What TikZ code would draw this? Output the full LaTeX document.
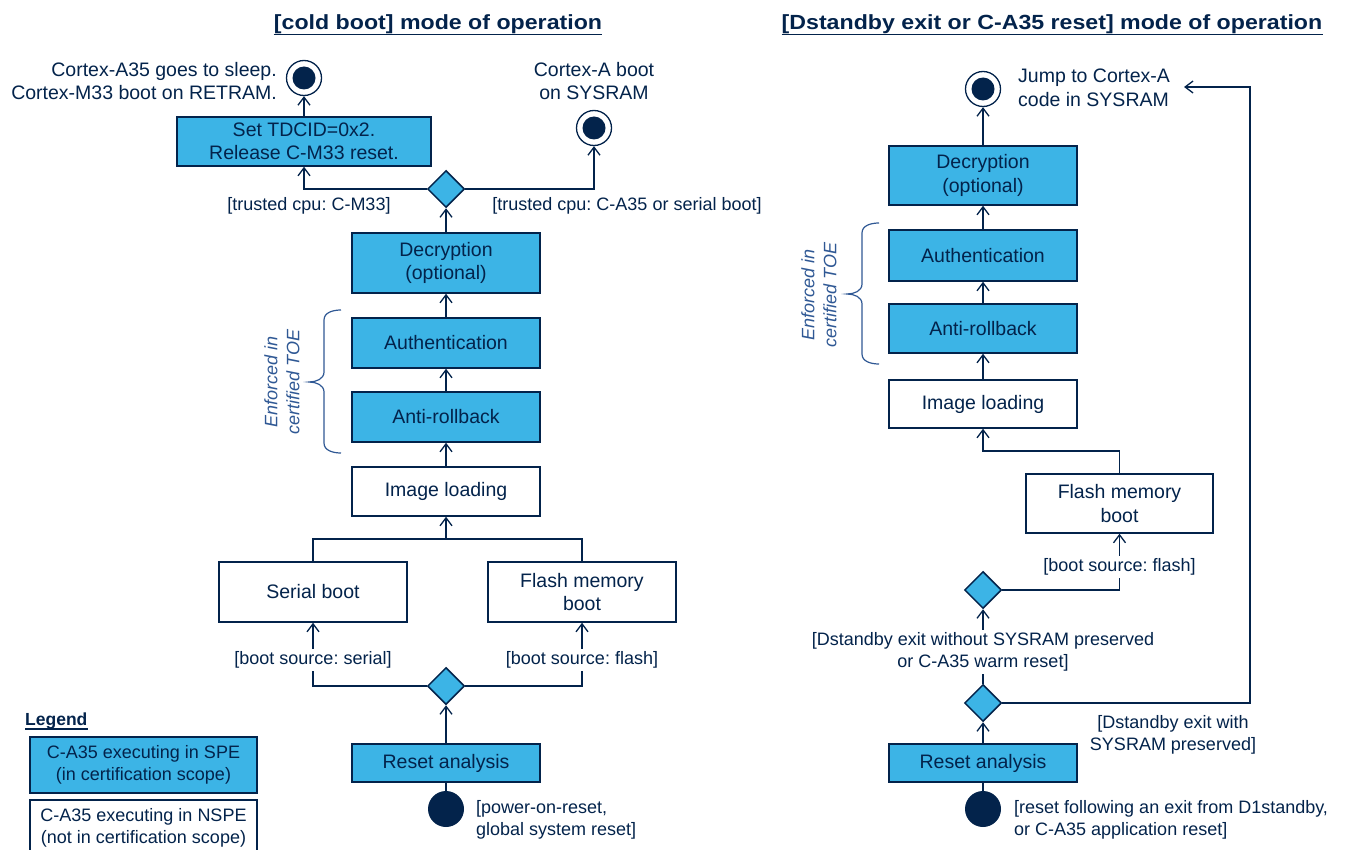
\documentclass[tikz,border=0pt]{standalone}
\usepackage{fontspec}
\setmainfont{Liberation Sans}
\newfontfamily\titleface{Liberation Sans}[FakeStretch=1.13]
\usetikzlibrary{shapes.geometric,arrows.meta}
\frenchspacing

\definecolor{stnavy}{HTML}{03234B}
\definecolor{stblue}{HTML}{3CB4E6}
\definecolor{toeblue}{HTML}{2F5894}

\newcommand{\boxfont}{\fontsize{19.5}{23.5}\selectfont}
\newcommand{\guardfont}{\fontsize{18}{22}\selectfont}

\tikzset{
  spe/.style={draw=stnavy, fill=stblue, line width=1.5pt, text=stnavy, minimum width=188pt,
    minimum height=50pt, inner sep=0pt, align=center, font=\boxfont},
  nspe/.style={spe, fill=white},
  decision/.style={diamond, draw=stnavy, fill=stblue, line width=1.5pt, minimum width=37pt,
    minimum height=37pt, inner sep=0pt},
  final/.style={circle, draw=stnavy, fill=white, line width=1.3pt, minimum size=35pt, inner sep=0pt,
    path picture={\fill[stnavy] (path picture bounding box.center) circle (11.5pt);}},
  initial/.style={circle, fill=stnavy, minimum size=36pt, inner sep=0pt},
  flow/.style={draw=stnavy, line width=1.3pt, -{Straight Barb[length=8pt,width=12pt,line width=1.3pt]}},
  link/.style={draw=stnavy, line width=1.3pt},
  guard/.style={fill=white, text=stnavy, inner sep=3pt, align=center, font=\guardfont},
  note/.style={text=stnavy, inner sep=0pt, font=\boxfont},
  toe/.style={text=toeblue, rotate=90, align=center, font=\guardfont\itshape},
  toebrace/.style={draw=toeblue, line width=1.2pt},
  title/.style={text=stnavy, inner sep=0pt, anchor=base, font=\titleface\bfseries\fontsize{20.5}{24}\selectfont},
}

\begin{document}
\begin{tikzpicture}[x=1pt, y=-1pt]
\useasboundingbox (0,0) rectangle (1348,850);

% ---- cold boot ----
\node[title] (title1) at (438,30) {[cold boot] mode of operation};
\draw[stnavy, line width=1.6pt] (title1.south west) -- (title1.south east);

\node[final] (endA1) at (304,78) {};
\node[note, anchor=east, align=right] (sleepTxt) at (277,81) {Cortex-A35 goes to sleep.\\Cortex-M33 boot on RETRAM.};
\node[final] (endA2) at (594,128) {};
\node[note, align=center] (sysramTxt) at (594,81) {Cortex-A boot\\on SYSRAM};
\node[spe, minimum width=254pt, minimum height=49pt] (tdcid) at (304,141.5) {Set TDCID=0x2.\\Release C-M33 reset.};
\node[decision] (cpu) at (446,189) {};

\node[spe, minimum height=60pt] (decrypt1) at (446,263) {Decryption\\(optional)};
\node[spe] (auth1) at (446,343) {Authentication};
\node[spe] (anti1) at (446,417) {Anti-rollback};
\node[nspe, minimum height=49pt] (load1) at (446,491.5) {Image loading};
\coordinate (join1) at (446,539);
\node[nspe, minimum height=60pt] (serial) at (313,592) {Serial boot};
\node[nspe, minimum height=60pt] (flash1) at (582,592) {Flash memory\\boot};
\node[decision] (source1) at (446,686) {};
\node[spe, minimum height=38pt] (reset1) at (446,763) {Reset analysis};
\node[initial] (start1) at (446,809) {};

\draw[link] (start1) -- (reset1);
\draw[flow] (reset1) -- (source1);
\draw[flow] (source1.west) -| (serial);
\draw[flow] (source1.east) -| (flash1);
\draw[link] (serial) |- (join1) -| (flash1);
\draw[flow] (join1) -- (load1);
\draw[flow] (load1) -- (anti1);
\draw[flow] (anti1) -- (auth1);
\draw[flow] (auth1) -- (decrypt1);
\draw[flow] (decrypt1) -- (cpu);
\draw[flow] (cpu.west) -| (tdcid);
\draw[flow] (cpu.east) -| (endA2);
\draw[flow] (tdcid) -- (endA1);

\node[guard] at (309,206) {[trusted cpu: C-M33]};
\node[guard] at (627,206) {[trusted cpu: C-A35 or serial boot]};
\node[guard] at (313,660) {[boot source: serial]};
\node[guard] at (582,660) {[boot source: flash]};
\node[note, font=\guardfont, anchor=west, align=left] at (476,820) {[power-on-reset,\\global system reset]};

\draw[toebrace] (341,310) to[out=180,in=90] (324,320) -- (324,372) to[out=-90,in=0] (309,382)
  to[out=0,in=90] (324,392) -- (324,443) to[out=-90,in=180] (341,453);
\node[toe] at (282,382) {Enforced in\\certified TOE};

% ---- legend ----
\node[text=stnavy, inner sep=0pt, anchor=base west, font=\bfseries\fontsize{17.5}{21}\selectfont] (legendTitle) at (25,725) {Legend};
\draw[stnavy, line width=1.4pt] (legendTitle.south west) -- (legendTitle.south east);
\node[spe, font=\guardfont, minimum width=227pt, minimum height=56pt] (keySpe) at (143.5,765) {C-A35 executing in SPE\\(in certification scope)};
\node[nspe, font=\guardfont, minimum width=227pt, minimum height=56pt] (keyNspe) at (143.5,828) {C-A35 executing in NSPE\\(not in certification scope)};

% ---- Dstandby exit or C-A35 reset ----
\node[title] (title2) at (1052,30) {[Dstandby exit or C-A35 reset] mode of operation};
\draw[stnavy, line width=1.6pt] (title2.south west) -- (title2.south east);

\node[final] (endB) at (983,89) {};
\node[note, anchor=west, align=left] (jumpTxt) at (1018,88) {Jump to Cortex-A\\code in SYSRAM};
\coordinate (jumpEnd) at (1184,87);
\node[spe, minimum height=59pt] (decrypt2) at (983,175.5) {Decryption\\(optional)};
\node[spe, minimum height=51pt] (auth2) at (983,255.5) {Authentication};
\node[spe, minimum height=49pt] (anti2) at (983,328.5) {Anti-rollback};
\node[nspe, minimum height=48pt] (load2) at (983,404) {Image loading};
\coordinate (join2) at (983,451);
\node[nspe, minimum width=187pt, minimum height=59pt] (flash2) at (1119.5,503.5) {Flash memory\\boot};
\node[decision] (source2) at (983,590) {};
\node[decision] (exitkind) at (983,703) {};
\node[spe, minimum height=38pt] (reset2) at (983,763) {Reset analysis};
\node[initial] (start2) at (983,809) {};
\coordinate (loopTop) at (1250,87);

\draw[link] (start2) -- (reset2);
\draw[flow] (reset2) -- (exitkind);
\draw[flow] (exitkind) -- (source2);
\draw[flow] (source2.east) -| (flash2);
\draw[flow] (flash2) |- (join2) -- (load2);
\draw[flow] (load2) -- (anti2);
\draw[flow] (anti2) -- (auth2);
\draw[flow] (auth2) -- (decrypt2);
\draw[flow] (decrypt2) -- (endB);
\draw[flow] (exitkind.east) -| (loopTop) -- (jumpEnd);

\node[guard] at (1119.5,567) {[boot source: flash]};
\node[guard] at (983,652) {[Dstandby exit without SYSRAM preserved\\or C-A35 warm reset]};
\node[guard] at (1173,735) {[Dstandby exit with\\SYSRAM preserved]};
\node[note, font=\guardfont, anchor=west, align=left] at (1014,820) {[reset following an exit from D1standby,\\or C-A35 application reset]};

\draw[toebrace] (879,223) to[out=180,in=90] (862,233) -- (862,284) to[out=-90,in=0] (847,294)
  to[out=0,in=90] (862,304) -- (862,354) to[out=-90,in=180] (879,364);
\node[toe] at (819,295) {Enforced in\\certified TOE};
\end{tikzpicture}
\end{document}
